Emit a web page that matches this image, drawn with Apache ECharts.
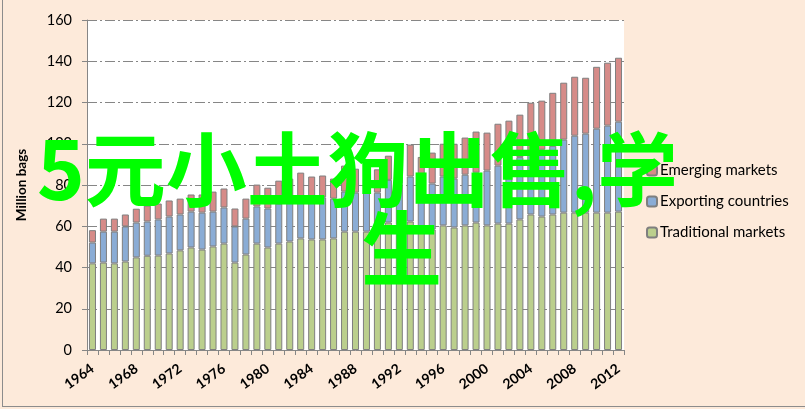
<!DOCTYPE html>
<html>
<head>
<meta charset="utf-8">
<script src="https://cdn.jsdelivr.net/npm/echarts@6/dist/echarts.min.js"></script>
<style>
  html, body { margin: 0; padding: 0; background: #FDEADA; }
  #frame { position: absolute; left: 2px; top: 0; width: 803px; height: 406px;
           border-left: 1px solid #8c8c8c; border-bottom: 1px solid #8c8c8c; box-sizing: content-box; }
  #chart { position: absolute; left: 0; top: 0; width: 805px; height: 409px; }
</style>
</head>
<body>
<div id="frame"></div>
<div id="chart"></div>
<script>
const years = [];
for (let y = 1964; y <= 2012; y++) years.push(String(y));

const traditional = [42.0,42.4,42.0,42.9,44.9,45.7,45.8,46.8,48.3,49.7,48.7,50.2,51.6,42.4,46.3,51.6,49.7,51.6,52.6,54.1,53.6,53.6,54.1,57.4,57.4,57.4,57.5,61.8,60.5,62.3,58.2,58.4,60.4,59.4,60.4,61.8,60.4,61.3,61.3,63.3,65.7,64.7,65.7,66.6,66.6,66.6,66.6,66.6,67.1];
const exporting = [10.1,15.0,15.4,17.0,16.9,16.6,17.5,17.9,17.4,17.4,17.9,16.9,17.5,17.5,17.4,18.0,18.9,19.4,19.4,19.5,20.0,20.4,19.3,19.4,18.9,19.6,18.8,20.7,20.0,21.8,22.0,22.3,23.7,23.7,24.6,24.2,26.6,28.1,29.7,30.2,30.5,32.4,33.3,35.4,37.3,38.3,40.7,42.2,43.6];
const emerging = [6.0,6.3,6.3,5.8,6.7,7.7,7.7,7.8,7.7,8.3,8.8,9.7,9.2,8.7,9.7,10.6,10.1,11.1,11.1,12.4,10.5,10.6,9.7,12.6,11.6,15.3,11.3,11.7,14.5,15.5,13.4,15.0,15.9,16.9,18.0,19.9,18.4,20.3,20.2,20.6,23.7,23.8,25.7,27.6,28.6,27.1,30.0,30.5,31.0];

const seriesNames = ['Traditional markets', 'Exporting countries', 'Emerging markets'];
const legendOrder = ['Emerging markets', 'Exporting countries', 'Traditional markets'];
const yAxisName = 'Million bags';
const overlayLine1 = '5元小土狗出售,学';
const overlayLine2 = '生';

const colors = ['#BBCF8D', '#8AACD5', '#D68B88'];
const font = 'Lato';

const chart = echarts.init(document.getElementById('chart'), null, { renderer: 'canvas' });
const mk = (name, data, color) => ({
  name, type: 'bar', stack: 'total', data,
  barCategoryGap: '36%',
  itemStyle: { color, borderColor: '#7f7f7f', borderWidth: 1 },
  emphasis: { disabled: true },
  animation: false
});
chart.setOption({
  animation: false,
  textStyle: { fontFamily: font },
  grid: { left: 87, top: 20, right: 181, bottom: 59, show: true, backgroundColor: '#ffffff', borderWidth: 0 },
  legend: {
    data: legendOrder, orient: 'vertical', left: 641, top: 158,
    itemWidth: 10, itemHeight: 10, itemGap: 16,
    textStyle: { fontFamily: font, fontSize: 15, color: '#000', padding: [0, 0, 0, -2] },
    selectedMode: false
  },
  xAxis: {
    type: 'category', data: years,
    axisLine: { lineStyle: { color: '#868686', width: 1 } },
    axisTick: { show: true, interval: 0, length: 5, lineStyle: { color: '#868686' } },
    axisLabel: { interval: 3, rotate: 36, margin: 17, color: '#000', fontWeight: 'bold', fontSize: 14, fontFamily: font }
  },
  yAxis: {
    type: 'value', min: 0, max: 160, interval: 20,
    name: yAxisName, nameLocation: 'middle', nameGap: 58,
    nameTextStyle: { color: '#000', fontWeight: 'bold', fontSize: 13.5, fontFamily: font },
    axisLine: { show: true, lineStyle: { color: '#868686', width: 1 } },
    axisTick: { show: true, length: 5, lineStyle: { color: '#868686' } },
    axisLabel: { margin: 15, color: '#000', fontSize: 14.5, fontFamily: font },
    splitLine: { show: true, lineStyle: { color: '#868686', type: [10, 3, 2, 3], width: 1 } }
  },
  series: [
    mk(seriesNames[0], traditional, colors[0]),
    mk(seriesNames[1], exporting, colors[1]),
    mk(seriesNames[2], emerging, colors[2])
  ],
  graphic: [
    { type: 'text', left: 37, top: 129, z: 100, silent: true,
      style: { text: overlayLine1, font: 'bold 81px "Noto Sans CJK SC"', fill: '#00FF00' } },
    { type: 'text', left: 361, top: 208, z: 100, silent: true,
      style: { text: overlayLine2, font: 'bold 81px "Noto Sans CJK SC"', fill: '#00FF00' } }
  ]
});
</script>
</body>
</html>
